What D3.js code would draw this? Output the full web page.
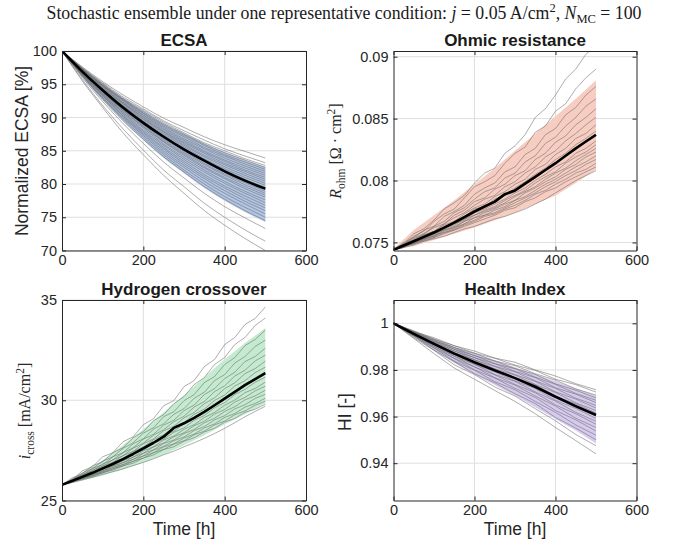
<!DOCTYPE html>
<html><head><meta charset="utf-8">
<script src="https://cdn.jsdelivr.net/npm/d3@7"></script>
<style>body{margin:0;background:#fff}svg{display:block}</style>
</head><body>
<svg id="c" width="688" height="546"></svg>
<script>
// ---------------- data ----------------
const tCoarse = [0,50,100,150,200,250,300,350,400,450,500];
const tFine = [0,25,50,75,100,125,150,175,200,225,250,275,300,325,350,375,400,425,450,475,500];
const xTicks = [0,200,400,600];
const ecsaTicks = [70,75,80,85,90,95,100];
const ohmicTicks = [0.075,0.08,0.085,0.09];
const crossTicks = [25,30,35];
const hiTicks = [0.94,0.96,0.98,1];

const ecsaMean = [100,96.9,94.1,91.5,89.2,87.1,85.2,83.5,81.9,80.5,79.3];
const ecsaBandHi = [100,97.4,95.0,92.9,91.0,89.1,87.6,86.1,84.8,83.6,82.6];
const ecsaBandLo = [100,96.1,92.7,89.5,86.6,83.9,81.6,79.4,77.5,75.8,74.3];
const ecsaRuns = [
[100,97.6,95.4,93.4,91.6,89.9,88.5,87.1,85.9,84.9,83.9],
[100,97.5,95.2,93.1,91.3,89.5,88.0,86.6,85.3,84.2,83.2],
[100,97.4,95.1,92.9,91.1,89.3,87.7,86.2,85.0,83.8,82.8],
[100,97.4,95.0,92.8,90.9,89.1,87.5,86.0,84.7,83.6,82.5],
[100,97.3,94.9,92.7,90.7,88.9,87.3,85.8,84.4,83.3,82.2],
[100,97.3,94.8,92.6,90.6,88.7,87.1,85.5,84.2,83.0,81.9],
[100,97.2,94.8,92.5,90.4,88.5,86.8,85.3,83.9,82.7,81.6],
[100,97.2,94.7,92.3,90.3,88.3,86.6,85.0,83.6,82.4,81.3],
[100,97.2,94.6,92.2,90.1,88.1,86.4,84.8,83.4,82.1,81.0],
[100,97.1,94.5,92.1,90.0,87.9,86.2,84.6,83.1,81.9,80.7],
[100,97.1,94.4,92.0,89.8,87.8,86.0,84.3,82.9,81.6,80.4],
[100,97.0,94.3,91.8,89.7,87.6,85.8,84.1,82.6,81.3,80.1],
[100,97.0,94.2,91.7,89.5,87.4,85.6,83.8,82.3,81.0,79.8],
[100,96.9,94.2,91.6,89.3,87.2,85.3,83.6,82.1,80.7,79.5],
[100,96.9,94.1,91.5,89.2,87.0,85.1,83.4,81.8,80.4,79.2],
[100,96.8,94.0,91.3,89.0,86.8,84.9,83.1,81.5,80.2,78.9],
[100,96.8,93.9,91.2,88.9,86.6,84.7,82.9,81.3,79.9,78.6],
[100,96.7,93.8,91.1,88.7,86.4,84.5,82.6,81.0,79.6,78.3],
[100,96.7,93.7,91.0,88.6,86.3,84.3,82.4,80.8,79.3,78.0],
[100,96.6,93.6,90.8,88.4,86.0,84.0,82.1,80.4,78.9,77.6],
[100,96.6,93.5,90.7,88.1,85.8,83.7,81.8,80.1,78.6,77.2],
[100,96.5,93.4,90.5,87.9,85.5,83.4,81.4,79.7,78.2,76.8],
[100,96.5,93.3,90.3,87.7,85.3,83.1,81.1,79.4,77.8,76.4],
[100,96.4,93.2,90.2,87.5,85.0,82.8,80.8,79.0,77.4,76.0],
[100,96.3,93.0,90.0,87.3,84.7,82.5,80.4,78.6,77.0,75.5],
[100,96.3,92.9,89.8,87.0,84.4,82.1,80.0,78.1,76.5,75.0],
[100,96.2,92.7,89.5,86.7,84.1,81.8,79.6,77.7,76.0,74.5],
[100,96.0,92.4,89.1,86.1,83.3,80.9,78.6,76.6,74.9,73.3],
[100,95.7,91.8,88.3,85.1,82.1,79.6,77.1,75.0,73.1,71.4],
[100,95.5,91.5,87.7,84.4,81.3,78.6,76.0,73.8,71.8,70.0]
];

const ohmicMean = [0.0744,0.07475,0.0751,0.07545,0.0758,0.0762,0.0766,0.07705,0.0775,0.0779,0.0783,0.0789,0.0792,0.07975,0.0803,0.08085,0.0814,0.0820,0.0826,0.08315,0.0837];
const ohmicBandHi = [0.0745,0.0760,0.0772,0.0784,0.0797,0.0810,0.0824,0.0838,0.0852,0.0866,0.0881];
const ohmicBandLo = [0.0744,0.0747,0.0752,0.0757,0.0762,0.0768,0.0774,0.0781,0.0788,0.0798,0.0809];
const ohmicRuns = [
[0.0744,0.0749,0.0757,0.0761,0.0768,0.0777,0.0782,0.0788,0.0798,0.0806,0.0810,0.0822,0.0828,0.0837,0.0851,0.0858,0.0869,0.0882,0.0890,0.0902,0.0909],
[0.0744,0.0748,0.0755,0.0759,0.0767,0.0773,0.0777,0.0786,0.0795,0.0799,0.0804,0.0814,0.0822,0.0827,0.0839,0.0844,0.0856,0.0862,0.0874,0.0883,0.0890],
[0.0744,0.0750,0.0754,0.0760,0.0763,0.0771,0.0775,0.0780,0.0789,0.0794,0.0798,0.0807,0.0811,0.0821,0.0826,0.0837,0.0842,0.0853,0.0859,0.0869,0.0876],
[0.0744,0.0748,0.0754,0.0757,0.0763,0.0767,0.0774,0.0778,0.0785,0.0791,0.0794,0.0802,0.0806,0.0815,0.0820,0.0830,0.0835,0.0844,0.0851,0.0860,0.0866],
[0.0744,0.0749,0.0752,0.0757,0.0762,0.0765,0.0772,0.0776,0.0783,0.0786,0.0793,0.0797,0.0804,0.0808,0.0817,0.0822,0.0831,0.0836,0.0845,0.0851,0.0858],
[0.0744,0.0747,0.0753,0.0756,0.0759,0.0765,0.0770,0.0774,0.0780,0.0785,0.0788,0.0795,0.0799,0.0806,0.0811,0.0819,0.0824,0.0832,0.0838,0.0845,0.0851],
[0.0744,0.0748,0.0751,0.0756,0.0759,0.0764,0.0767,0.0773,0.0778,0.0781,0.0787,0.0791,0.0797,0.0801,0.0809,0.0813,0.0821,0.0826,0.0834,0.0838,0.0845],
[0.0744,0.0747,0.0752,0.0754,0.0759,0.0762,0.0767,0.0771,0.0777,0.0779,0.0785,0.0788,0.0794,0.0799,0.0805,0.0810,0.0817,0.0822,0.0829,0.0834,0.0840],
[0.0744,0.0748,0.0750,0.0755,0.0757,0.0762,0.0766,0.0769,0.0775,0.0779,0.0782,0.0788,0.0791,0.0797,0.0802,0.0808,0.0813,0.0820,0.0825,0.0831,0.0836],
[0.0744,0.0747,0.0751,0.0753,0.0758,0.0761,0.0765,0.0768,0.0774,0.0777,0.0781,0.0785,0.0790,0.0794,0.0800,0.0805,0.0811,0.0815,0.0822,0.0826,0.0832],
[0.0744,0.0748,0.0750,0.0754,0.0756,0.0761,0.0764,0.0769,0.0772,0.0776,0.0779,0.0784,0.0788,0.0792,0.0798,0.0803,0.0807,0.0814,0.0819,0.0823,0.0829],
[0.0744,0.0747,0.0750,0.0753,0.0757,0.0760,0.0763,0.0767,0.0772,0.0775,0.0778,0.0782,0.0787,0.0791,0.0795,0.0801,0.0806,0.0810,0.0816,0.0821,0.0826],
[0.0744,0.0746,0.0750,0.0753,0.0755,0.0760,0.0762,0.0767,0.0770,0.0774,0.0777,0.0781,0.0784,0.0790,0.0794,0.0799,0.0803,0.0809,0.0813,0.0819,0.0823],
[0.0744,0.0747,0.0749,0.0753,0.0755,0.0759,0.0762,0.0765,0.0770,0.0772,0.0776,0.0779,0.0784,0.0787,0.0792,0.0797,0.0801,0.0806,0.0811,0.0815,0.0820],
[0.0744,0.0747,0.0749,0.0752,0.0756,0.0758,0.0761,0.0765,0.0768,0.0772,0.0774,0.0778,0.0782,0.0786,0.0790,0.0795,0.0799,0.0804,0.0808,0.0813,0.0817],
[0.0744,0.0746,0.0750,0.0752,0.0754,0.0758,0.0760,0.0764,0.0767,0.0771,0.0773,0.0777,0.0780,0.0784,0.0789,0.0792,0.0797,0.0801,0.0806,0.0809,0.0814],
[0.0744,0.0747,0.0749,0.0751,0.0754,0.0757,0.0760,0.0763,0.0766,0.0769,0.0772,0.0776,0.0778,0.0783,0.0786,0.0791,0.0794,0.0799,0.0803,0.0807,0.0811],
[0.0744,0.0746,0.0748,0.0751,0.0753,0.0755,0.0758,0.0761,0.0763,0.0766,0.0769,0.0771,0.0774,0.0777,0.0781,0.0785,0.0790,0.0795,0.0800,0.0804,0.0808]
];

const crossMean = [25.78,25.98,26.18,26.38,26.6,26.82,27.06,27.32,27.6,27.88,28.18,28.62,28.85,29.12,29.42,29.75,30.08,30.42,30.75,31.05,31.35];
const crossBandHi = [25.8,26.4,27.0,27.75,28.55,29.4,30.25,31.15,32.05,32.85,33.6];
const crossBandLo = [25.75,25.98,26.25,26.55,26.9,27.3,27.75,28.25,28.8,29.3,29.85];
const crossRuns = [
[25.78,26.03,26.48,26.68,27.18,27.38,27.93,28.18,28.78,29.08,29.73,29.98,30.68,30.98,31.68,32.03,32.78,33.13,33.78,34.08,34.65],
[25.78,26.13,26.33,26.73,26.93,27.38,27.63,28.13,28.43,28.98,29.28,29.83,30.18,30.78,31.13,31.78,32.13,32.78,33.13,33.73,34.10],
[25.78,26.00,26.38,26.58,26.96,27.18,27.60,27.88,28.36,28.63,29.18,29.43,29.98,30.28,30.88,31.18,31.78,32.13,32.73,33.03,33.50],
[25.78,26.08,26.26,26.60,26.78,27.18,27.38,27.83,28.08,28.56,28.83,29.30,29.58,30.10,30.40,30.98,31.28,31.86,32.18,32.68,33.00],
[25.78,26.00,26.30,26.48,26.82,27.02,27.38,27.63,28.06,28.30,28.76,29.00,29.48,29.76,30.28,30.58,31.08,31.40,31.93,32.18,32.60],
[25.78,26.04,26.22,26.52,26.70,27.03,27.23,27.61,27.86,28.26,28.53,28.93,29.20,29.66,29.94,30.43,30.72,31.21,31.50,31.96,32.25],
[25.78,25.98,26.25,26.42,26.72,26.90,27.24,27.45,27.83,28.07,28.48,28.70,29.12,29.39,29.83,30.12,30.58,30.87,31.33,31.58,31.95],
[25.78,26.02,26.18,26.44,26.61,26.91,27.10,27.44,27.67,28.03,28.28,28.64,28.89,29.30,29.56,29.99,30.26,30.71,30.98,31.38,31.65],
[25.78,25.96,26.21,26.36,26.64,26.80,27.11,27.30,27.65,27.87,28.24,28.45,28.83,29.08,29.47,29.74,30.15,30.42,30.83,31.06,31.40],
[25.78,26.00,26.14,26.39,26.54,26.82,26.99,27.30,27.51,27.84,28.06,28.40,28.62,29.00,29.24,29.63,29.88,30.29,30.54,30.90,31.15],
[25.78,25.94,26.17,26.31,26.56,26.71,26.99,27.16,27.48,27.68,28.02,28.21,28.55,28.78,29.14,29.39,29.75,30.01,30.38,30.59,30.90],
[25.78,25.98,26.11,26.34,26.48,26.73,26.88,27.17,27.36,27.67,27.87,28.18,28.38,28.73,28.95,29.31,29.54,29.91,30.14,30.47,30.70],
[25.78,25.93,26.14,26.27,26.50,26.63,26.90,27.05,27.35,27.53,27.84,28.02,28.34,28.54,28.88,29.10,29.44,29.68,30.02,30.22,30.50],
[25.78,25.96,26.09,26.30,26.42,26.66,26.79,27.06,27.23,27.51,27.70,27.98,28.17,28.49,28.69,29.02,29.23,29.57,29.78,30.09,30.30],
[25.78,25.92,26.11,26.23,26.44,26.57,26.80,26.95,27.22,27.38,27.67,27.83,28.12,28.31,28.62,28.82,29.14,29.34,29.66,29.84,30.10],
[25.78,25.95,26.06,26.25,26.37,26.58,26.72,26.96,27.11,27.38,27.55,27.81,27.98,28.28,28.46,28.77,28.96,29.28,29.47,29.75,29.95],
[25.78,25.91,26.09,26.19,26.39,26.51,26.73,26.86,27.12,27.27,27.54,27.68,27.96,28.13,28.42,28.60,28.91,29.09,29.40,29.55,29.80],
[25.78,25.90,26.03,26.16,26.30,26.44,26.58,26.74,26.90,27.08,27.28,27.46,27.68,27.88,28.10,28.34,28.60,28.88,29.18,29.44,29.70]
];

const hiMean = [1.0,0.9955,0.9912,0.9870,0.9833,0.9798,0.9765,0.9728,0.9685,0.9645,0.9607];
const hiBandHi = [1.0,0.9965,0.9932,0.9900,0.9870,0.9840,0.9812,0.9782,0.9752,0.9720,0.9690];
const hiBandLo = [1.0,0.9942,0.9885,0.9830,0.9780,0.9735,0.9690,0.9640,0.9590,0.9540,0.9485];
const hiRuns = [
[1,0.9965,0.9938,0.9904,0.9881,0.9851,0.9833,0.9800,0.9774,0.9741,0.9715],
[1,0.9968,0.9932,0.9904,0.9872,0.9850,0.9821,0.9798,0.9760,0.9737,0.9705],
[1,0.9963,0.9933,0.9896,0.9871,0.9839,0.9818,0.9784,0.9756,0.9719,0.9692],
[1,0.9965,0.9926,0.9896,0.9861,0.9838,0.9806,0.9781,0.9740,0.9713,0.9680],
[1,0.9960,0.9928,0.9889,0.9862,0.9827,0.9805,0.9769,0.9738,0.9699,0.9670],
[1,0.9963,0.9922,0.9889,0.9852,0.9827,0.9794,0.9767,0.9724,0.9696,0.9660],
[1,0.9958,0.9923,0.9881,0.9853,0.9816,0.9792,0.9753,0.9721,0.9679,0.9648],
[1,0.9960,0.9917,0.9882,0.9843,0.9815,0.9780,0.9751,0.9706,0.9675,0.9637],
[1,0.9955,0.9918,0.9874,0.9844,0.9805,0.9778,0.9738,0.9703,0.9659,0.9626],
[1,0.9958,0.9912,0.9875,0.9833,0.9804,0.9767,0.9736,0.9688,0.9655,0.9615],
[1,0.9952,0.9913,0.9867,0.9835,0.9793,0.9765,0.9723,0.9685,0.9639,0.9604],
[1,0.9955,0.9907,0.9867,0.9824,0.9792,0.9753,0.9720,0.9670,0.9635,0.9592],
[1,0.9950,0.9908,0.9859,0.9824,0.9781,0.9751,0.9706,0.9666,0.9618,0.9580],
[1,0.9952,0.9901,0.9859,0.9813,0.9779,0.9738,0.9702,0.9650,0.9612,0.9567],
[1,0.9947,0.9902,0.9850,0.9813,0.9767,0.9735,0.9688,0.9645,0.9593,0.9553],
[1,0.9949,0.9895,0.9849,0.9801,0.9765,0.9721,0.9682,0.9626,0.9586,0.9538],
[1,0.9943,0.9894,0.9838,0.9799,0.9750,0.9715,0.9665,0.9618,0.9564,0.9520],
[1,0.9945,0.9885,0.9836,0.9784,0.9745,0.9698,0.9656,0.9596,0.9551,0.9500],
[1,0.9938,0.9884,0.9822,0.9780,0.9727,0.9688,0.9634,0.9582,0.9523,0.9475],
[1,0.9935,0.9870,0.9808,0.9760,0.9712,0.9665,0.9612,0.9553,0.9497,0.9440]
];

// ---------------- drawing ----------------
const svg = d3.select("#c");
const SANS = "'Liberation Sans', Arial, Helvetica, sans-serif";
const SERIF = "'Liberation Serif', 'Times New Roman', serif";
const INK = "#262626";

const fmtTrim = d => String(+d.toFixed(4));

const panels = [
  {key:"a", title:"ECSA", L:62, R:306, T:51, B:250.5, yDom:[70,100], yTicks:ecsaTicks, fmt:d3.format("d"),
   runs:ecsaRuns, tRuns:tCoarse, mean:ecsaMean, tMean:tCoarse, hi:ecsaBandHi, lo:ecsaBandLo,
   band:"#b3c6e6", curve:d3.curveMonotoneX, bandCurve:d3.curveMonotoneX, xlabel:false},
  {key:"b", title:"Ohmic resistance", L:393.5, R:636.5, T:51, B:250.5, yDom:[0.07435,0.09046], yTicks:ohmicTicks, fmt:fmtTrim,
   runs:ohmicRuns, tRuns:tFine, mean:ohmicMean, tMean:tFine, hi:ohmicBandHi, lo:ohmicBandLo,
   band:"#f7cdc1", curve:d3.curveLinear, bandCurve:d3.curveLinear, xlabel:false},
  {key:"c", title:"Hydrogen crossover", L:62, R:306, T:300, B:500.5, yDom:[25,35], yTicks:crossTicks, fmt:d3.format("d"),
   runs:crossRuns, tRuns:tFine, mean:crossMean, tMean:tFine, hi:crossBandHi, lo:crossBandLo,
   band:"#c4eacf", curve:d3.curveLinear, bandCurve:d3.curveLinear, xlabel:true},
  {key:"d", title:"Health Index", L:393.5, R:636.5, T:300, B:500.5, yDom:[0.924,1.01], yTicks:hiTicks, fmt:fmtTrim,
   runs:hiRuns, tRuns:tCoarse, mean:hiMean, tMean:tCoarse, hi:hiBandHi, lo:hiBandLo,
   band:"#d6cbee", curve:d3.curveLinear, bandCurve:d3.curveLinear, xlabel:true}
];

const defs = svg.append("defs");

panels.forEach(p => {
  const g = svg.append("g");
  const x = d3.scaleLinear().domain([0,600]).range([p.L, p.R]);
  const y = d3.scaleLinear().domain(p.yDom).range([p.B, p.T]);

  // grid
  g.append("g").selectAll("line").data(xTicks.filter(v => v > 0 && v < 600)).join("line")
    .attr("x1", d => x(d)).attr("x2", d => x(d)).attr("y1", p.T).attr("y2", p.B)
    .attr("stroke", "#dfdfdf").attr("stroke-width", 1);
  g.append("g").selectAll("line").data(p.yTicks).join("line")
    .attr("x1", p.L).attr("x2", p.R).attr("y1", d => y(d)).attr("y2", d => y(d))
    .attr("stroke", "#dfdfdf").attr("stroke-width", 1);

  defs.append("clipPath").attr("id", "clip" + p.key).append("rect")
    .attr("x", p.L).attr("y", p.T).attr("width", p.R - p.L).attr("height", p.B - p.T);
  const plot = g.append("g").attr("clip-path", `url(#clip${p.key})`);

  const area = d3.area().x((d, i) => x(tCoarse[i])).y0(d => y(d[0])).y1(d => y(d[1])).curve(p.bandCurve);
  plot.append("path").datum(d3.zip(p.lo, p.hi)).attr("d", area)
    .attr("fill", p.band);

  const runLine = d3.line().x((d, i) => x(p.tRuns[i])).y(d => y(d)).curve(p.curve);
  plot.append("g").selectAll("path").data(p.runs).join("path")
    .attr("d", runLine).attr("fill", "none")
    .attr("stroke", "#6a6a6a").attr("stroke-opacity", 0.55).attr("stroke-width", 1);

  const meanLine = d3.line().x((d, i) => x(p.tMean[i])).y(d => y(d)).curve(p.key === "a" ? d3.curveMonotoneX : d3.curveLinear);
  plot.append("path").datum(p.mean).attr("d", meanLine).attr("fill", "none")
    .attr("stroke", "#000").attr("stroke-width", 2.6).attr("stroke-linejoin", "round");

  // axes (box with inward ticks)
  const styleAxis = sel => {
    sel.selectAll(".domain").attr("stroke", INK);
    sel.selectAll(".tick line").attr("stroke", INK);
    sel.selectAll("text").attr("fill", INK).style("font-family", SANS).style("font-size", "14.5px");
  };
  g.append("g").attr("transform", `translate(0,${p.B})`)
    .call(d3.axisBottom(x).tickValues(xTicks).tickSizeInner(-4).tickSizeOuter(0).tickPadding(4).tickFormat(d3.format("d")))
    .call(styleAxis);
  g.append("g").attr("transform", `translate(0,${p.T})`)
    .call(d3.axisTop(x).tickValues(xTicks).tickSizeInner(-4).tickSizeOuter(0).tickFormat(""))
    .call(styleAxis);
  g.append("g").attr("transform", `translate(${p.L},0)`)
    .call(d3.axisLeft(y).tickValues(p.yTicks).tickSizeInner(-4).tickSizeOuter(0).tickPadding(5).tickFormat(p.fmt))
    .call(styleAxis);
  g.append("g").attr("transform", `translate(${p.R},0)`)
    .call(d3.axisRight(y).tickValues(p.yTicks).tickSizeInner(-4).tickSizeOuter(0).tickFormat(""))
    .call(styleAxis);

  // title
  svg.append("text").attr("x", (p.L + p.R) / 2).attr("y", p.T - 5)
    .attr("text-anchor", "middle").style("font-family", SANS).style("font-weight", "bold")
    .style("font-size", "17px").attr("fill", "#1a1a1a").text(p.title);

  if (p.xlabel) {
    svg.append("text").attr("x", (p.L + p.R) / 2).attr("y", 535)
      .attr("text-anchor", "middle").style("font-family", SANS).style("font-size", "17.5px")
      .attr("fill", INK).text("Time [h]");
  }
});

// y labels
function ylab(cx, cy) {
  return svg.append("text").attr("transform", `translate(${cx},${cy}) rotate(-90)`)
    .attr("text-anchor", "middle").attr("fill", INK);
}
ylab(28, 151).style("font-family", SANS).style("font-size", "17.5px").text("Normalized ECSA [%]");
ylab(351, 412).style("font-family", SANS).style("font-size", "17.5px").text("HI [-]");

const rl = ylab(341, 151).style("font-family", SERIF).style("font-size", "16px");
rl.append("tspan").style("font-style", "italic").text("R");
rl.append("tspan").attr("dy", 3.5).style("font-size", "11.5px").text("ohm");
rl.append("tspan").attr("dy", -3.5).text(" [Ω · cm");
rl.append("tspan").attr("dy", -6).style("font-size", "11.5px").text("2");
rl.append("tspan").attr("dy", 6).text("]");

const il = ylab(30, 411).style("font-family", SERIF).style("font-size", "16px");
il.append("tspan").style("font-style", "italic").text("i");
il.append("tspan").attr("dy", 3.5).style("font-size", "11.5px").text("cross");
il.append("tspan").attr("dy", -3.5).text(" [mA/cm");
il.append("tspan").attr("dy", -6).style("font-size", "11.5px").text("2");
il.append("tspan").attr("dy", 6).text("]");

// main title
const mt = svg.append("text").attr("x", 344).attr("y", 19).attr("text-anchor", "middle")
  .style("font-family", SERIF).style("font-size", "17.8px").attr("fill", "#1a1a1a");
mt.append("tspan").text("Stochastic ensemble under one representative condition: ");
mt.append("tspan").style("font-style", "italic").text("j");
mt.append("tspan").text(" = 0.05 A/cm");
mt.append("tspan").attr("dy", -7).style("font-size", "12.5px").text("2");
mt.append("tspan").attr("dy", 7).text(", ");
mt.append("tspan").style("font-style", "italic").text("N");
mt.append("tspan").attr("dy", 3.5).style("font-size", "12.5px").text("MC");
mt.append("tspan").attr("dy", -3.5).text(" = 100");
</script>
</body></html>
